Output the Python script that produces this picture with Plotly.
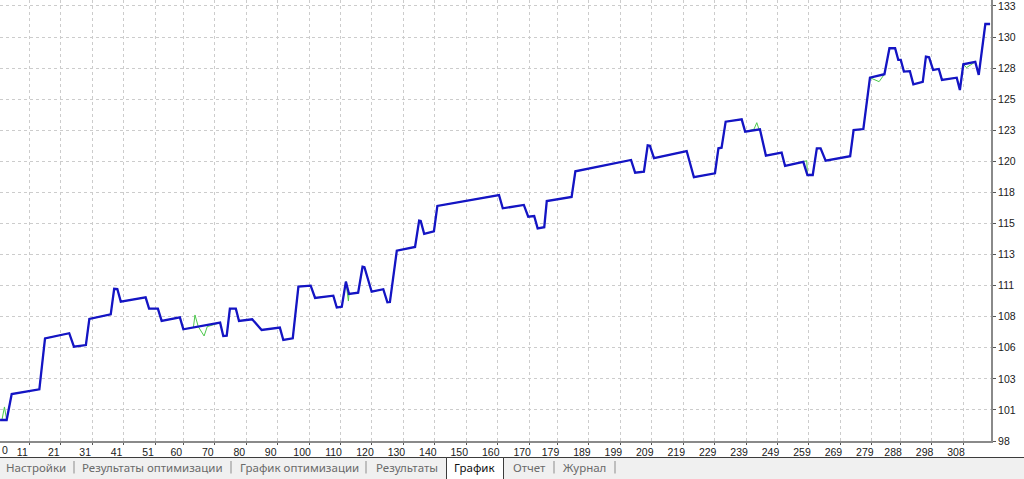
import plotly.graph_objects as go

# ---------------- data ----------------
balance_x = [1.7, 3.8, 5.4, 14.2, 16.0, 23.7, 25.2, 29.0, 30.1, 36.9, 38.0, 39.0, 40.1, 48.0, 49.1,
             51.9, 53.1, 58.9, 60.0, 71.7, 72.7, 73.8, 74.8, 76.7, 77.7, 81.9, 84.9, 90.7, 91.8, 94.8,
             96.6, 100.5, 101.9, 107.7, 108.8, 110.4, 111.7, 112.7, 115.6, 117.0, 117.6, 119.9, 123.6,
             124.9, 125.7, 127.9, 133.7, 135.0, 135.5, 136.6, 139.7, 140.8, 160.4, 161.6, 168.3, 169.7,
             171.6, 172.7, 174.8, 175.6, 183.5, 184.7, 202.4, 203.7, 206.5, 207.7, 208.4, 209.7, 220.1,
             222.4, 229.1, 230.2, 231.2, 232.5, 237.6, 238.7, 243.4, 245.3, 250.3, 251.4, 257.2, 258.5,
             260.2, 261.5, 262.7, 264.3, 272.1, 273.2, 276.3, 278.4, 283.0, 284.6, 286.4, 287.4, 288.2,
             289.2, 291.1, 292.2, 295.2, 296.2, 297.2, 298.5, 300.3, 301.3, 306.0, 307.0, 308.1, 311.9,
             313.0, 315.1, 316.6]
balance_y = [99.69, 99.69, 101.78, 102.16, 106.26, 106.67, 105.59, 105.72, 107.82, 108.19, 110.25,
             110.23, 109.21, 109.56, 108.65, 108.65, 107.66, 107.95, 106.99, 107.52, 106.45, 106.47,
             108.65, 108.65, 107.66, 107.79, 106.93, 107.12, 106.13, 106.26, 110.42, 110.50, 109.51,
             109.69, 108.74, 108.81, 110.82, 109.83, 109.93, 112.02, 111.98, 110.01, 110.21, 109.16,
             109.18, 113.31, 113.61, 115.73, 115.70, 114.66, 114.87, 116.91, 117.79, 116.72, 116.99,
             116.05, 116.10, 115.11, 115.20, 117.31, 117.63, 119.70, 120.61, 119.59, 119.67, 121.79,
             121.76, 120.75, 121.33, 119.22, 119.54, 121.55, 121.60, 123.69, 123.88, 122.89, 123.08,
             120.96, 121.20, 120.13, 120.45, 119.40, 119.40, 121.55, 121.55, 120.55, 120.91, 123.02,
             123.10, 127.23, 127.51, 129.60, 129.60, 128.66, 128.66, 127.72, 127.75, 126.70, 126.89,
             128.92, 128.87, 127.85, 127.93, 127.05, 127.23, 126.24, 128.31, 128.50, 127.45, 131.55,
             131.55]

# equity deviations from balance (floating profit/loss spikes)
equity_extra_x = [2.3, 3.1, 63.2, 63.7, 64.75, 66.6, 67.6, 112.5, 241.5, 242.4, 243.1, 258.3, 259.3,
                  281.3, 309.1]
equity_extra_y = [99.69, 100.74, 107.15, 108.14, 107.20, 106.45, 107.20, 109.26, 123.08, 123.61,
                  123.08, 120.55, 119.46, 126.91, 128.04]

x_tick_labels = [0, 11, 21, 31, 41, 51, 60, 70, 80, 90, 100, 110, 120, 130, 140, 150, 160, 170, 179,
                 189, 199, 209, 219, 229, 239, 249, 259, 269, 279, 288, 298, 308]
y_tick_values = [98.0, 100.5, 103.0, 105.5, 108.0, 110.5, 113.0, 115.5, 118.0, 120.5, 123.0, 125.5,
                 128.0, 130.5, 133.0]
y_tick_labels = ["98", "101", "103", "106", "108", "111", "113", "115", "118", "120", "123", "125",
                 "128", "130", "133"]

tab_labels = ["Настройки", "Результаты оптимизации", "График оптимизации", "Результаты",
              "График", "Отчет", "Журнал"]
active_tab = "График"

# ---------------- build ----------------
eq_pts = sorted(list(zip(balance_x, balance_y)) + list(zip(equity_extra_x, equity_extra_y)))
equity_x = [p[0] for p in eq_pts]
equity_y = [p[1] for p in eq_pts]

W, H = 1024, 479
ML, MR, MT, MB = 0, 33, 0, 38
PW, PH = W - ML - MR, H - MT - MB

fig = go.Figure()
fig.add_trace(go.Scatter(x=equity_x, y=equity_y, mode="lines",
                         line=dict(color="#4cc84c", width=1), hoverinfo="skip"))
fig.add_trace(go.Scatter(x=balance_x, y=balance_y, mode="lines",
                         line=dict(color="#1414c4", width=2.3), hoverinfo="skip"))

grid = "#cccccc"
tickfont = dict(family="Liberation Sans", size=10.5, color="#202020")

fig.update_xaxes(range=[1.68, 316.9], tickmode="array",
                 tickvals=[v for v in x_tick_labels],
                 ticktext=[str(v) for v in x_tick_labels],
                 showgrid=True, gridcolor=grid, griddash="dot", gridwidth=1,
                 showline=True, linecolor="#8a8a8a", linewidth=2,
                 ticks="outside", ticklen=2, tickcolor="#555", tickwidth=1,
                 ticklabelshift=-7, ticklabelstandoff=-2, tickfont=tickfont,
                 zeroline=False, fixedrange=True, automargin=False)
fig.update_yaxes(range=[98, 133.48], side="right", tickmode="array",
                 tickvals=y_tick_values, ticktext=y_tick_labels,
                 showgrid=True, gridcolor=grid, griddash="dot", gridwidth=1,
                 showline=True, linecolor="#8a8a8a", linewidth=2,
                 ticks="outside", ticklen=3, tickcolor="#555", tickwidth=1,
                 ticklabeloverflow="allow",
                 tickfont=tickfont, zeroline=False, fixedrange=True, automargin=False)


def px_x(px):
    return (px - ML) / PW


def px_y(py):
    return (H - MB - py) / PH


shapes = []
# tab strip background
shapes.append(dict(type="rect", xref="paper", yref="paper", x0=px_x(0), x1=px_x(W),
                   y0=px_y(H), y1=px_y(457.5), fillcolor="#f0f0f0", line=dict(width=0), layer="above"))
# top border of tab strip
shapes.append(dict(type="line", xref="paper", yref="paper", x0=px_x(0), x1=px_x(W),
                   y0=px_y(457.5), y1=px_y(457.5), line=dict(color="#3c3c3c", width=1.2)))

tab_x = [7, 84, 241, 377, 456, 514, 563]
tab_w = [57, 137, 116, 59, 38, 30, 42]
sep_x = [74, 231, 366, None, None, 554, 615]
annotations = []
for lab, x0, w, sx in zip(tab_labels, tab_x, tab_w, sep_x):
    active = lab == active_tab
    annotations.append(dict(text=lab, xref="paper", yref="paper", x=px_x(x0 + w / 2), y=px_y(467.5),
                            xanchor="center", yanchor="middle", showarrow=False,
                            font=dict(family="Noto Sans", size=11.5,
                                      color="#101010" if active else "#6a6a6a")))
    if active:
        shapes.append(dict(type="rect", xref="paper", yref="paper", x0=px_x(446.5), x1=px_x(503.5),
                           y0=px_y(481), y1=px_y(457.5), fillcolor="#ffffff",
                           line=dict(color="#3c3c3c", width=1), layer="above"))
    if sx is not None:
        shapes.append(dict(type="line", xref="paper", yref="paper", x0=px_x(sx), x1=px_x(sx),
                           y0=px_y(473.5), y1=px_y(461), line=dict(color="#8c8c8c", width=1)))

# the first x label "0" that sits on the left edge
annotations.append(dict(text=str(x_tick_labels[0]), xref="paper", yref="paper", x=px_x(0), y=px_y(450),
                        xanchor="left", yanchor="middle", showarrow=False, font=tickfont))

fig.update_layout(width=W, height=H, margin=dict(l=ML, r=MR, t=MT, b=MB, pad=0),
                  paper_bgcolor="#ffffff", plot_bgcolor="#ffffff", showlegend=False,
                  shapes=shapes, annotations=annotations)

fig.write_html("out.html", config={"displayModeBar": False},
               post_script="document.body.style.margin='0';document.body.style.overflow='hidden';")
